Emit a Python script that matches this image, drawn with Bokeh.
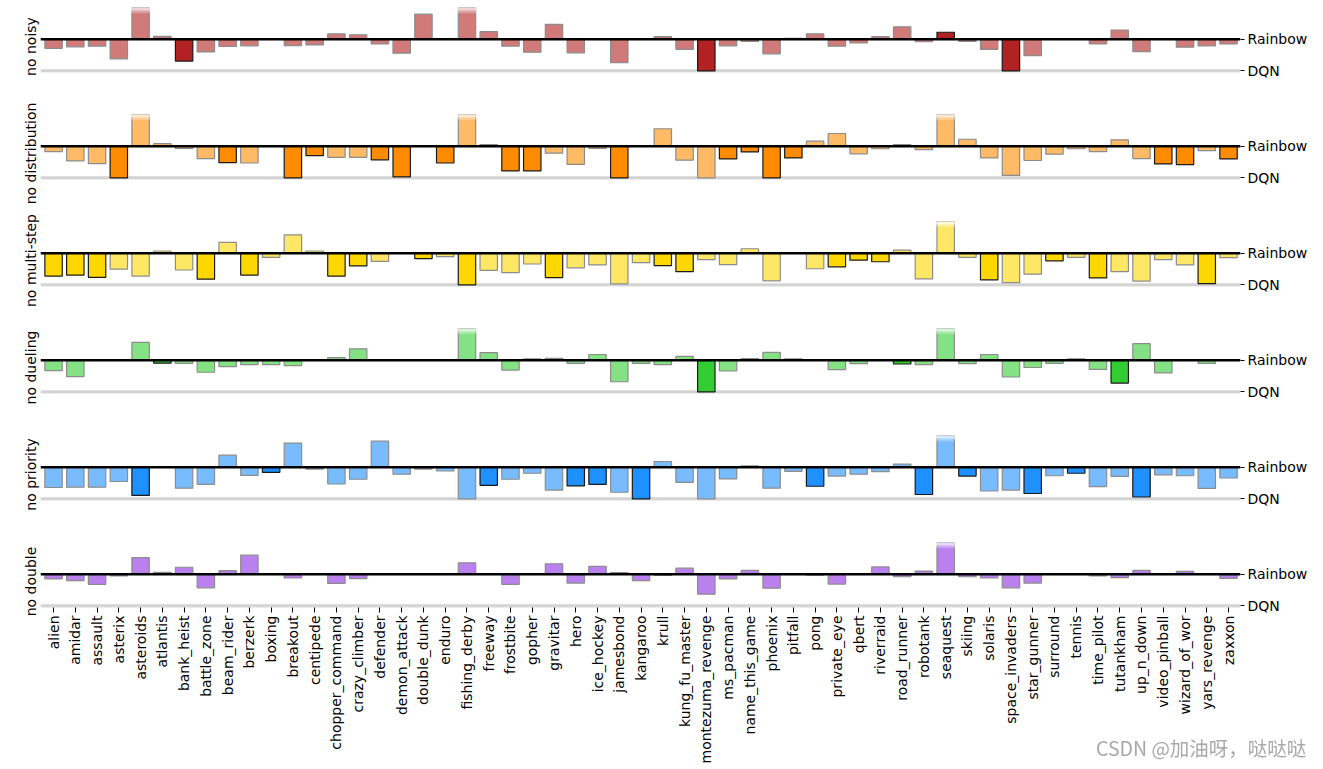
import math
from bokeh.plotting import figure
from bokeh.models import ColumnDataSource, Span, FixedTicker, Range1d, Div
from bokeh.layouts import column, row
from bokeh.core.properties import value
from bokeh.embed import file_html
from bokeh.resources import INLINE

games = ["alien", "amidar", "assault", "asterix", "asteroids", "atlantis", "bank_heist",
         "battle_zone", "beam_rider", "berzerk", "boxing", "breakout", "centipede",
         "chopper_command", "crazy_climber", "defender", "demon_attack", "double_dunk",
         "enduro", "fishing_derby", "freeway", "frostbite", "gopher", "gravitar", "hero",
         "ice_hockey", "jamesbond", "kangaroo", "krull", "kung_fu_master",
         "montezuma_revenge", "ms_pacman", "name_this_game", "phoenix", "pitfall", "pong",
         "private_eye", "qbert", "riverraid", "road_runner", "robotank", "seaquest",
         "skiing", "solaris", "space_invaders", "star_gunner", "surround", "tennis",
         "time_pilot", "tutankham", "up_n_down", "video_pinball", "wizard_of_wor",
         "yars_revenge", "zaxxon"]

ablations = ["no noisy", "no distribution", "no multi-step", "no dueling",
             "no priority", "no double"]

no_noisy = [-0.29, -0.24, -0.22, -0.62, 2.0, 0.09, -0.69, -0.40, -0.23, -0.21, 0.0,
            -0.20, -0.18, 0.17, 0.14, -0.15, -0.44, 0.79, 0.0, 2.0, 0.24, -0.22, -0.41,
            0.47, -0.43, 0.0, -0.74, 0.0, 0.08, -0.32, -1.0, -0.21, -0.07, -0.46, 0.03,
            0.17, -0.22, -0.12, 0.08, 0.39, -0.08, 0.22, -0.07, -0.32, -1.0, -0.52, 0.0,
            0.0, -0.15, 0.29, -0.39, 0.0, -0.25, -0.21, -0.15]
no_distribution = [-0.17, -0.46, -0.55, -1.0, 2.0, 0.08, -0.07, -0.39, -0.52, -0.53, 0.0,
                   -1.0, -0.30, -0.35, -0.35, -0.43, -0.97, 0.0, -0.53, 2.0, 0.05, -0.78,
                   -0.78, -0.22, -0.57, -0.07, -1.0, 0.0, 0.55, -0.44, -1.0, -0.40, -0.18,
                   -1.0, -0.37, 0.16, 0.40, -0.24, -0.08, 0.05, -0.11, 2.0, 0.22, -0.37,
                   -0.92, -0.45, -0.25, -0.08, -0.17, 0.20, -0.39, -0.56, -0.58, -0.14,
                   -0.40]
no_multi_step = [-0.72, -0.69, -0.76, -0.50, -0.72, 0.07, -0.53, -0.82, 0.34, -0.69, -0.13,
                 0.58, 0.07, -0.72, -0.40, -0.26, 0.0, -0.17, -0.11, -1.0, -0.54, -0.61,
                 -0.34, -0.77, -0.46, -0.37, -0.97, -0.30, -0.39, -0.58, -0.20, -0.36,
                 0.14, -0.87, 0.0, -0.49, -0.43, -0.22, -0.27, 0.10, -0.81, 2.0, -0.13,
                 -0.84, -0.93, -0.66, -0.24, -0.13, -0.78, -0.58, -0.88, -0.20, -0.37,
                 -0.96, -0.14]
no_dueling = [-0.33, -0.52, 0.0, 0.0, 0.56, -0.09, -0.10, -0.38, -0.20, -0.14, -0.14,
              -0.17, 0.0, 0.08, 0.36, 0.0, 0.0, 0.0, 0.0, 2.0, 0.24, -0.31, 0.04, 0.06,
              -0.10, 0.18, -0.68, -0.10, -0.14, 0.12, -1.0, -0.34, 0.05, 0.25, 0.04, 0.0,
              -0.30, -0.11, 0.0, -0.12, -0.14, 2.0, -0.11, 0.18, -0.53, -0.23, -0.10,
              0.04, -0.29, -0.72, 0.52, -0.40, 0.0, -0.10, 0.0]
no_priority = [-0.64, -0.63, -0.63, -0.45, -0.89, 0.0, -0.66, -0.54, 0.38, -0.26, -0.16,
               0.76, -0.06, -0.53, -0.38, 0.82, -0.22, -0.06, -0.12, -1.0, -0.57, -0.38,
               -0.19, -0.72, -0.59, -0.54, -0.79, -1.0, 0.18, -0.48, -1.0, -0.37, 0.04,
               -0.66, -0.13, -0.60, -0.28, -0.22, -0.14, 0.10, -0.86, 2.0, -0.28, -0.75,
               -0.72, -0.83, -0.27, -0.19, -0.61, -0.29, -0.94, -0.24, -0.27, -0.67,
               -0.34]
no_double = [-0.15, -0.20, -0.32, -0.05, 0.52, 0.06, 0.22, -0.43, 0.11, 0.60, 0.0, -0.12,
             0.0, -0.29, -0.14, 0.0, 0.0, 0.0, 0.0, 0.36, 0.0, -0.32, 0.0, 0.33, -0.28,
             0.25, 0.05, -0.20, -0.04, 0.19, -0.63, -0.15, 0.12, -0.44, 0.02, -0.03,
             -0.31, 0.0, 0.23, -0.08, 0.10, 2.0, -0.08, -0.12, -0.43, -0.28, 0.0, 0.0,
             -0.05, -0.11, 0.12, 0.0, 0.09, 0.0, -0.13]

highlight_noisy = ["bank_heist", "montezuma_revenge", "seaquest", "space_invaders"]
highlight_distribution = ["asterix", "beam_rider", "breakout", "centipede", "defender",
                          "demon_attack", "enduro", "frostbite", "gopher", "jamesbond",
                          "ms_pacman", "name_this_game", "phoenix", "pitfall",
                          "video_pinball", "wizard_of_wor", "zaxxon"]
highlight_multi_step = ["alien", "amidar", "assault", "battle_zone", "berzerk",
                        "chopper_command", "crazy_climber", "double_dunk", "fishing_derby",
                        "gravitar", "krull", "kung_fu_master", "private_eye", "qbert",
                        "riverraid", "solaris", "surround", "time_pilot", "yars_revenge"]
highlight_dueling = ["atlantis", "montezuma_revenge", "road_runner", "tutankham"]
highlight_priority = ["asteroids", "boxing", "freeway", "hero", "ice_hockey", "kangaroo",
                      "pong", "robotank", "skiing", "star_gunner", "tennis", "up_n_down"]
highlight_double = []

series = [no_noisy, no_distribution, no_multi_step, no_dueling, no_priority, no_double]
highlights = [highlight_noisy, highlight_distribution, highlight_multi_step,
              highlight_dueling, highlight_priority, highlight_double]

light_colors = ["#d17a7a", "#ffba66", "#ffe766", "#84e184", "#78bcff", "#b980ee"]
dark_colors = ["#b22222", "#ff8c00", "#ffd700", "#32cd32", "#1e90ff", "#8a2be2"]

Y_TOP = 1.0
Y_BOT = -1.05
FONT = "DejaVu Sans"
ROW_H = 107
LAST_H = 234
LEFT_W = 40
TOTAL_W = 1323
TOTAL_H = ROW_H * 5 + LAST_H

figs = []
for r in range(6):
    vals = series[r]
    hl = set(highlights[r])
    last = r == 5
    p = figure(width=TOTAL_W - LEFT_W, height=LAST_H if last else ROW_H,
               x_range=Range1d(-0.6, 54.55), y_range=Range1d(Y_BOT, Y_TOP),
               output_backend="svg", toolbar_location=None,
               y_axis_location="right", x_axis_location="below" if last else None,
               min_border_left=0, min_border_right=83, min_border_top=7,
               min_border_bottom=162 if last else 35)
    p.grid.visible = False
    p.outline_line_color = None
    p.background_fill_color = "white"
    p.border_fill_color = "white"

    p.add_layout(Span(location=-1, dimension="width", line_color="#d3d3d3",
                      line_width=3.5, level="underlay"))

    src = ColumnDataSource(dict(
        x=list(range(len(games))),
        top=vals,
        fill=[dark_colors[r] if g in hl else light_colors[r] for g in games],
        line=["#1a1a1a" if g in hl else "#8c8c8c" for g in games],
    ))
    p.vbar(x="x", top="top", bottom=0, width=0.8, fill_color="fill",
           line_color="line", line_width=1.2, source=src)

    # fade-out for bars exceeding the panel top
    clipped = [i for i, v in enumerate(vals) if v > Y_TOP]
    if clipped:
        steps = 8
        band = 0.2
        for s in range(steps):
            b = Y_TOP - band + s * band / steps
            p.vbar(x=clipped, top=b + band / steps + 0.001, bottom=b, width=0.9,
                   fill_color="white", fill_alpha=(s + 1) / (steps + 1),
                   line_color=None)

    p.add_layout(Span(location=0, dimension="width", line_color="black",
                      line_width=2.5))

    ya = p.yaxis[0]
    ya.ticker = FixedTicker(ticks=[-1, 0])
    ya.major_label_overrides = {0: "Rainbow", -1: "DQN"}
    ya.axis_line_color = None
    ya.major_tick_in = 0
    ya.major_tick_out = 4
    ya.major_tick_line_color = "black"
    ya.minor_tick_line_color = None
    ya.major_label_standoff = 3
    ya.major_label_text_font = FONT
    ya.major_label_text_font_size = "14px"
    ya.major_label_text_color = "black"

    if last:
        xa = p.xaxis[0]
        xa.ticker = FixedTicker(ticks=list(range(len(games))))
        xa.major_label_overrides = {i: g for i, g in enumerate(games)}
        xa.major_label_orientation = math.pi / 2
        xa.axis_line_color = None
        xa.major_tick_in = 0
        xa.major_tick_out = 5
        xa.major_tick_line_color = "black"
        xa.minor_tick_line_color = None
        xa.major_label_standoff = 3
        xa.major_label_text_font = FONT
        xa.major_label_text_font_size = "14px"
        xa.major_label_text_color = "black"
    figs.append(p)

# left column holding the rotated panel titles (they overflow the panel height)
lab = figure(width=LEFT_W, height=TOTAL_H, x_range=Range1d(0, LEFT_W),
             y_range=Range1d(TOTAL_H, 0), output_backend="svg", toolbar_location=None,
             x_axis_location=None, y_axis_location=None, min_border=0)
lab.grid.visible = False
lab.outline_line_color = None
lab.text(x=[30] * len(ablations), y=[r * ROW_H + 46 for r in range(len(ablations))],
         text=ablations, angle=math.pi / 2, text_align="center", text_baseline="middle",
         text_font=value(FONT), text_font_size="14px", text_color="black")

layout = row(lab, column(*figs, spacing=0), spacing=0)

watermark = Div(text="CSDN @加油呀，哒哒哒", width=240, height=24,
                styles={"position": "fixed", "left": "1096px", "top": "736px",
                        "font-family": "'Noto Sans CJK SC', sans-serif",
                        "font-size": "19.5px", "line-height": "24px",
                        "color": "#a8a8a8", "white-space": "nowrap", "margin": "0"},
                stylesheets=[":host { position: fixed !important; left: 1096px !important;"
                             " top: 736px !important; }"])

open("out.html", "w").write(file_html([layout, watermark], INLINE))
